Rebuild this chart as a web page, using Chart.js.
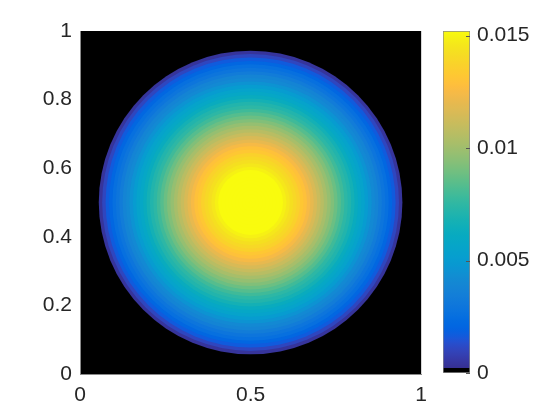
<!DOCTYPE html>
<html><head><meta charset="utf-8">
<script src="https://cdn.jsdelivr.net/npm/chart.js@4/dist/chart.umd.min.js"></script>
<style>
html,body{margin:0;padding:0;background:#fff;}
#wrap{position:relative;width:560px;height:420px;overflow:hidden;}
.box{position:absolute;top:0;}
</style></head><body>
<div id="wrap">
  <div class="box" style="left:0;width:436px;height:420px"><canvas id="main" width="436" height="420"></canvas></div>
  <div class="box" style="left:420px;width:140px;height:420px"><canvas id="cbar" width="140" height="420"></canvas></div>
</div>
<script>
// ---- data ----
const xTicks = [0, 0.5, 1];
const xTickLabels = ['0', '0.5', '1'];
const yTicks = [0, 0.2, 0.4, 0.6, 0.8, 1];
const yTickLabels = ['0', '0.2', '0.4', '0.6', '0.8', '1'];
const discCenter = [0.5, 0.5];
// outer radius of each concentric ring (data units) and the field value in that ring
const ringOuterRadius = [0.445,0.435,0.425,0.415,0.405,0.395,0.385,0.375,0.365,0.355,0.345,0.335,0.325,0.315,0.305,0.295,0.285,0.275,0.265,0.255,0.245,0.235,0.225,0.215,0.205,0.195,0.185,0.175,0.165,0.155,0.145,0.135,0.125,0.115,0.105,0.095,0.085,0.075,0.065,0.055,0.045,0.035,0.025,0.015,0.005];
const ringValue = [0.00038,0.00106,0.00167,0.00213,0.00258,0.00289,0.00334,0.00380,0.00410,0.00456,0.00502,0.00547,0.00578,0.00623,0.00669,0.00714,0.00745,0.00790,0.00836,0.00882,0.00927,0.00973,0.01018,0.01064,0.01110,0.01155,0.01201,0.01246,0.01292,0.01322,0.01368,0.01398,0.01429,0.01459,0.01490,0.01520,0.01535,0.01550,0.01566,0.01581,0.01596,0.01596,0.01611,0.01611,0.01611];
const colorLimits = [0, 0.0152];
const cbTicks = [0, 0.005, 0.01, 0.015];
const cbTickLabels = ['0', '0.005', '0.01', '0.015'];

// ---- colormap (parula; lowest 1/64 drawn black) ----
const PARULA = [
[0.2081,0.1663,0.5292],[0.2116,0.1898,0.5777],[0.2123,0.2138,0.6270],[0.2081,0.2386,0.6771],
[0.1959,0.2645,0.7279],[0.1707,0.2919,0.7792],[0.1253,0.3242,0.8303],[0.0591,0.3598,0.8683],
[0.0117,0.3875,0.8820],[0.0060,0.4086,0.8828],[0.0165,0.4266,0.8786],[0.0329,0.4430,0.8720],
[0.0498,0.4586,0.8641],[0.0629,0.4737,0.8554],[0.0723,0.4887,0.8467],[0.0779,0.5040,0.8384],
[0.0793,0.5200,0.8312],[0.0749,0.5375,0.8263],[0.0641,0.5570,0.8240],[0.0488,0.5772,0.8228],
[0.0343,0.5966,0.8199],[0.0265,0.6137,0.8135],[0.0239,0.6287,0.8038],[0.0231,0.6418,0.7913],
[0.0228,0.6535,0.7768],[0.0267,0.6642,0.7607],[0.0384,0.6743,0.7436],[0.0590,0.6838,0.7254],
[0.0843,0.6928,0.7062],[0.1133,0.7015,0.6859],[0.1453,0.7098,0.6646],[0.1801,0.7177,0.6424],
[0.2178,0.7250,0.6193],[0.2586,0.7317,0.5954],[0.3022,0.7376,0.5712],[0.3482,0.7424,0.5473],
[0.3953,0.7459,0.5244],[0.4420,0.7481,0.5033],[0.4871,0.7491,0.4840],[0.5300,0.7491,0.4661],
[0.5709,0.7485,0.4494],[0.6099,0.7473,0.4337],[0.6473,0.7456,0.4188],[0.6834,0.7435,0.4044],
[0.7184,0.7411,0.3905],[0.7525,0.7384,0.3768],[0.7858,0.7356,0.3633],[0.8185,0.7327,0.3498],
[0.8507,0.7299,0.3360],[0.8824,0.7274,0.3217],[0.9139,0.7258,0.3063],[0.9450,0.7261,0.2886],
[0.9739,0.7314,0.2666],[0.9938,0.7455,0.2403],[0.9990,0.7653,0.2164],[0.9955,0.7861,0.1967],
[0.9880,0.8066,0.1794],[0.9789,0.8271,0.1633],[0.9697,0.8481,0.1475],[0.9626,0.8705,0.1309],
[0.9589,0.8949,0.1132],[0.9598,0.9218,0.0948],[0.9661,0.9514,0.0755],[0.9763,0.9831,0.0538]];
function rgb(c){ return 'rgb(' + c.map(v => Math.round(v*255)).join(',') + ')'; }
function colorAt(t){
  if (t < 1/64) return 'rgb(0,0,0)';
  const f = Math.min(1, t) * (PARULA.length - 1);
  const i = Math.floor(f), j = Math.min(PARULA.length - 1, i + 1), w = f - i;
  return rgb(PARULA[i].map((a, k) => a + (PARULA[j][k] - a) * w));
}
function colorFor(v){ return colorAt((v - colorLimits[0]) / (colorLimits[1] - colorLimits[0])); }

const FONT = {family: "'Liberation Sans', Arial, Helvetica, sans-serif", size: 21};
const TXT = '#262626';
const AXC = '#8a8a8a';

// ---- main image ----
const bgPlugin = {
  id: 'bg',
  beforeDraw(chart){
    const {ctx, chartArea: a} = chart;
    ctx.save(); ctx.fillStyle = colorFor(colorLimits[0]); ctx.fillRect(a.left, a.top, a.right-a.left, a.bottom-a.top); ctx.restore();
  }
};
new Chart(document.getElementById('main'), {
  type: 'scatter',
  data: { datasets: [{
    data: ringOuterRadius.map((r, i) => ({x: discCenter[0], y: discCenter[1], rr: r, v: ringValue[i]})),
    pointRadius: ctx => {
      if (!ctx.raw) return 0;
      const s = ctx.chart.scales.x;
      return s.getPixelForValue(discCenter[0] + ctx.raw.rr) - s.getPixelForValue(discCenter[0]);
    },
    pointBackgroundColor: ctx => ctx.raw ? colorFor(ctx.raw.v) : '#000',
    pointBorderWidth: 0,
    showLine: false
  }]},
  options: {
    responsive: false, animation: false, events: [],
    layout: {padding: {left: 0, top: 31, right: 13, bottom: 0}},
    plugins: {legend: {display: false}, tooltip: {enabled: false}},
    scales: {
      x: {type: 'linear', min: 0, max: 1,
        afterBuildTicks: s => { s.ticks = xTicks.map(v => ({value: v})); },
        afterFit: s => { s.height = 46; },
        grid: {display: false, drawTicks: false},
        border: {display: true, color: AXC, width: 1},
        ticks: {font: FONT, color: TXT, padding: 9, maxRotation: 0, autoSkip: false,
          callback: (v, i) => xTickLabels[i]}},
      y: {type: 'linear', min: 0, max: 1,
        afterBuildTicks: s => { s.ticks = yTicks.map(v => ({value: v})); },
        afterFit: s => { s.width = 80; },
        grid: {display: false, drawTicks: false},
        border: {display: true, color: AXC, width: 1},
        ticks: {font: FONT, color: TXT, padding: 8, autoSkip: false,
          callback: (v, i) => yTickLabels[i]}}
    }
  },
  plugins: [bgPlugin]
});

// ---- colorbar ----
function cbFill(ctx){
  const ch = ctx.chart;
  if (!ch.chartArea) return '#000';
  const ys = ch.scales.y;
  const y0 = ys.getPixelForValue(colorLimits[0]), y1 = ys.getPixelForValue(colorLimits[1]);
  const g = ch.ctx.createLinearGradient(0, y0, 0, y1);
  g.addColorStop(0, colorAt(0)); g.addColorStop(1/64, colorAt(0));
  const n = 128;
  for (let k = 0; k <= n; k++){
    const t = 1/64 + (1 - 1/64) * k / n;
    g.addColorStop(t, colorAt(Math.max(t, 1/64 + 1e-9)));
  }
  return g;
}
const cbTickPlugin = {
  id: 'cbt',
  afterDatasetsDraw(chart){
    const {ctx, chartArea: a} = chart; const ys = chart.scales.y;
    ctx.save(); ctx.strokeStyle = '#555'; ctx.lineWidth = 1;
    cbTicks.forEach(v => { const y = Math.round(ys.getPixelForValue(v)) + 0.5;
      ctx.beginPath(); ctx.moveTo(a.right - 4, y); ctx.lineTo(a.right, y); ctx.stroke(); });
    ctx.restore();
  }
};
new Chart(document.getElementById('cbar'), {
  type: 'bar',
  data: { labels: [''], datasets: [{
    data: [[colorLimits[0], colorLimits[1]]],
    backgroundColor: cbFill, borderColor: AXC, borderWidth: 1, borderSkipped: false,
    barPercentage: 1, categoryPercentage: 1
  }]},
  options: {
    responsive: false, animation: false, events: [],
    layout: {padding: {left: 23, top: 31, right: 0, bottom: 47}},
    plugins: {legend: {display: false}, tooltip: {enabled: false}},
    scales: {
      x: {display: false},
      y: {position: 'right', min: colorLimits[0], max: colorLimits[1],
        afterBuildTicks: s => { s.ticks = cbTicks.map(v => ({value: v})); },
        afterFit: s => { s.width = 90; },
        grid: {display: false, drawTicks: false},
        border: {display: false},
        ticks: {font: FONT, color: TXT, padding: 7, autoSkip: false,
          callback: (v, i) => cbTickLabels[i]}}
    }
  },
  plugins: [cbTickPlugin]
});
</script>
</body></html>
